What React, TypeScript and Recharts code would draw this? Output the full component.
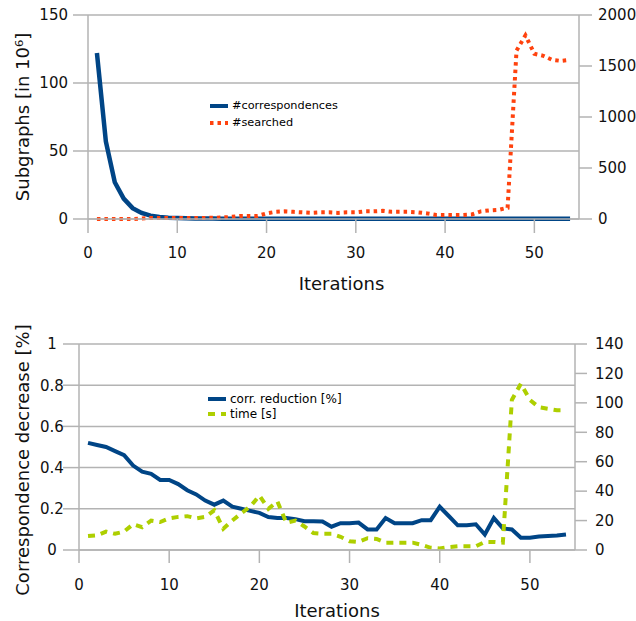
import React from 'react';
import { LineChart, Line, XAxis, YAxis, CartesianGrid, Legend } from 'recharts';

// Iterations 1..54
const iterations = Array.from({ length: 54 }, (_, i) => i + 1);

// Top chart: subgraphs (in 10^6) and searched
const correspondences = [
  122, 57, 27, 15, 8, 4.5, 2.5, 1.5, 1, 0.7,
  0.5, 0.4, 0.3, 0.3, 0.2, 0.2, 0.2, 0.1, 0.1, 0.1,
  0.1, 0.1, 0.1, 0.1, 0.1, 0.1, 0.1, 0.1, 0.1, 0.1,
  0.1, 0.1, 0.1, 0.1, 0.1, 0.1, 0.1, 0.1, 0.1, 0.1,
  0.1, 0.1, 0.1, 0.1, 0.1, 0.1, 0.1, 0.1, 0.1, 0.1,
  0.1, 0.1, 0.1, 0.1,
];
const searched = [
  0, 0, 0, 0, 0, 5, 10, 10, 10, 10,
  10, 10, 10, 12, 15, 20, 30, 30, 30, 55,
  70, 75, 70, 65, 60, 65, 65, 60, 65, 65,
  75, 75, 80, 70, 70, 70, 65, 55, 40, 40,
  40, 40, 45, 75, 85, 90, 110, 1650, 1800, 1620,
  1600, 1560, 1550, 1560,
];

// Bottom chart: correspondence reduction and time
const corrReduction = [
  0.52, 0.51, 0.5, 0.48, 0.46, 0.41, 0.38, 0.37, 0.34, 0.34,
  0.32, 0.29, 0.27, 0.24, 0.22, 0.24, 0.21, 0.2, 0.19, 0.18,
  0.16, 0.155, 0.155, 0.15, 0.14, 0.14, 0.138, 0.113, 0.13, 0.13,
  0.133, 0.1, 0.1, 0.155, 0.13, 0.13, 0.13, 0.145, 0.145, 0.21,
  0.165, 0.12, 0.12, 0.125, 0.075, 0.155, 0.105, 0.1, 0.06, 0.06,
  0.065, 0.068, 0.07, 0.075,
];
const timeSec = [
  9.5, 10, 12.5, 11, 12.5, 17.5, 15.5, 20, 19, 21.5,
  22.5, 23, 21.5, 22.5, 27, 14.5, 20, 25, 29.5, 37,
  28, 33, 18.5, 20, 16, 11.5, 11, 11, 9, 6,
  5.5, 8, 7.5, 5, 5, 5, 5, 3.5, 1.5, 1,
  2, 2.5, 2.5, 2.5, 5.5, 5.5, 5, 102, 113, 102,
  97, 96, 95, 95,
];

const xTicks = [0, 10, 20, 30, 40, 50];
const subgraphTicks = [0, 50, 100, 150];
const searchedTicks = [0, 500, 1000, 1500, 2000];
const decreaseTicks = [0, 0.2, 0.4, 0.6, 0.8, 1];
const timeTicks = [0, 20, 40, 60, 80, 100, 120, 140];

const topData = iterations.map((it, i) => ({ it, corr: correspondences[i], searched: searched[i] }));
const bottomData = iterations.map((it, i) => ({ it, red: corrReduction[i], time: timeSec[i] }));

const FONT = '"DejaVu Sans", sans-serif';
const GRID = '#b3b3b3';
const tickStyle = { fontSize: 15, fill: '#111', fontFamily: FONT };

const yLabel = (text: string, x: number, shift: number) => (props: any) => {
  const vb = props.viewBox;
  const cy = vb.y + vb.height / 2 + shift;
  return (
    <text x={x} y={cy} transform={`rotate(-90 ${x} ${cy})`} textAnchor="middle" dominantBaseline="central"
      style={{ fontSize: 18, fontFamily: FONT, fill: '#111' }}>
      {text}
    </text>
  );
};

const xLabel = (text: string, dy: number, shift: number) => (props: any) => {
  const vb = props.viewBox;
  const cx = vb.x + vb.width / 2 + shift;
  return (
    <text x={cx} y={vb.y + dy} textAnchor="middle" dominantBaseline="central"
      style={{ fontSize: 18, fontFamily: FONT, fill: '#111' }}>
      {text}
    </text>
  );
};

const legendContent = (rowH: number, size: number) => (props: any) => (
  <div style={{ fontFamily: FONT, fontSize: size, color: '#000' }}>
    {props.payload.map((entry: any) => (
      <div key={entry.value} style={{ display: 'flex', alignItems: 'center', height: rowH, whiteSpace: 'nowrap' }}>
        <svg width={18} height={6} style={{ marginRight: 4 }}>
          <line x1={0} y1={3} x2={18} y2={3} stroke={entry.color} strokeWidth={4}
            strokeDasharray={entry.payload.strokeDasharray} />
        </svg>
        <span>{entry.value}</span>
      </div>
    ))}
  </div>
);

const App: React.FC = () => {
  return (
    <div style={{ position: 'absolute', left: 0, top: 0, width: 636, height: 621, background: '#fff' }}>
      {/* Subgraphs */}
      <div style={{ position: 'absolute', left: 0, top: 0 }}>
        <LineChart width={636} height={300} data={topData} margin={{ top: 15, right: 0, bottom: 0, left: 0 }}>
          <CartesianGrid yAxisId="left" vertical={false} stroke={GRID} strokeWidth={1.5} />
          <XAxis dataKey="it" type="number" domain={[0, 55]} ticks={xTicks} height={81}
            stroke={GRID} strokeWidth={1.5} tickSize={14} tickMargin={14} tick={tickStyle}
            label={xLabel('Iterations', 64, 8)} />
          <YAxis yAxisId="left" domain={[0, 150]} ticks={subgraphTicks} width={88}
            stroke={GRID} strokeWidth={1.5} tickSize={15} tickMargin={5} tick={tickStyle}
            label={yLabel('Subgraphs [in 10⁶]', 22, 0)} />
          <YAxis yAxisId="right" orientation="right" domain={[0, 2000]} ticks={searchedTicks} width={57}
            stroke={GRID} strokeWidth={1.5} tickSize={13} tickMargin={6} tick={tickStyle} />
          <Legend layout="vertical" align="center" verticalAlign="middle"
            wrapperStyle={{ left: 210, top: 97, width: 160 }} content={legendContent(17, 11.3)} />
          <Line yAxisId="left" dataKey="corr" name="#correspondences" stroke="#004586" strokeWidth={4.5}
            dot={false} isAnimationActive={false} />
          <Line yAxisId="right" dataKey="searched" name="#searched" stroke="#ff420e" strokeWidth={4}
            strokeDasharray="3.5 4" dot={false} isAnimationActive={false} />
        </LineChart>
      </div>

      {/* Correspondence decrease */}
      <div style={{ position: 'absolute', left: 0, top: 300 }}>
        <LineChart width={636} height={321} data={bottomData} margin={{ top: 44, right: 0, bottom: 0, left: 0 }}>
          <CartesianGrid yAxisId="left" vertical={false} stroke={GRID} strokeWidth={1.5} />
          <XAxis dataKey="it" type="number" domain={[0, 55]} ticks={xTicks} height={71}
            stroke={GRID} strokeWidth={1.5} tickSize={13} tickMargin={16} tick={tickStyle}
            label={xLabel('Iterations', 60, 10)} />
          <YAxis yAxisId="left" domain={[0, 1]} ticks={decreaseTicks} width={79}
            stroke={GRID} strokeWidth={1.5} tickSize={16} tickMargin={11}
            tick={{ ...tickStyle, textAnchor: 'middle' }}
            label={yLabel('Correspondence decrease [%]', 22, 13)} />
          <YAxis yAxisId="right" orientation="right" domain={[0, 140]} ticks={timeTicks} width={61}
            stroke={GRID} strokeWidth={1.5} tickSize={12} tickMargin={8} tick={tickStyle} />
          <Legend layout="vertical" align="center" verticalAlign="middle"
            wrapperStyle={{ left: 208, top: 91, width: 160 }} content={legendContent(15, 12)} />
          <Line yAxisId="left" dataKey="red" name="corr. reduction [%]" stroke="#004586" strokeWidth={4}
            dot={false} isAnimationActive={false} />
          <Line yAxisId="right" dataKey="time" name="time [s]" stroke="#aecf00" strokeWidth={4}
            strokeDasharray="7 6" dot={false} isAnimationActive={false} />
        </LineChart>
      </div>
    </div>
  );
};

export default App;
